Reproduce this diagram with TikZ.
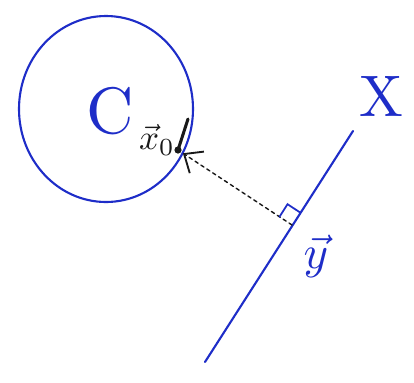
\documentclass[tikz,border=0pt]{standalone}
\usepackage{graphicx}
\usepackage{amsmath}
\definecolor{penblue}{RGB}{30,45,200}
\definecolor{penblack}{RGB}{25,25,25}
\usetikzlibrary{arrows.meta,positioning,calc}

\begin{document}
\begin{tikzpicture}[x=0.03cm, y=-0.03cm,
    bluepen/.style={draw=penblue, line width=1.8pt, line cap=round},
    blackpen/.style={draw=penblack, line width=1.6pt, line cap=round},
    biglabel/.style={text=penblue, inner sep=0pt}
  ]
    \useasboundingbox (0,0) rectangle (414,382);
    % Set C
    \draw[bluepen] (106,109) ellipse [x radius=87, y radius=93];
    \node[biglabel] (setC) at (110,111) {\scalebox{5.6}{C}};
    % Point x0 on the boundary
    \coordinate (x0) at (178,150);
    \coordinate (tan) at (188,119);
    \draw[blackpen, line width=2.6pt] (x0) -- (tan);
    \fill[penblack] (x0) circle [radius=3.6];
    \node[text=penblack, inner sep=0pt] (x0lbl)
      at (157,140) {\scalebox{3}{$\vec{x}_0$}};
    % Line X
    \coordinate (lineA) at (205,362);
    \coordinate (lineB) at (353,131);
    \draw[bluepen] (lineA) -- (lineB);
    \node[biglabel] (setX) at (381,96) {\scalebox{5}{X}};
    % Projection
    \coordinate (foot) at (292,225);
    \draw[blackpen, line width=1.2pt, dashed, shorten >=5pt,
          -{Straight Barb[length=13pt, width=22pt, line width=1.6pt]}]
      (foot) -- (x0);
    \draw[bluepen, line width=1.5pt] (279.5,216.8) -- (287.5,204.2) -- (300,212.4);
    \node[biglabel] (ylbl) at (316,256) {\scalebox{4}{$\vec{y}$}};
  \end{tikzpicture}
\end{document}
